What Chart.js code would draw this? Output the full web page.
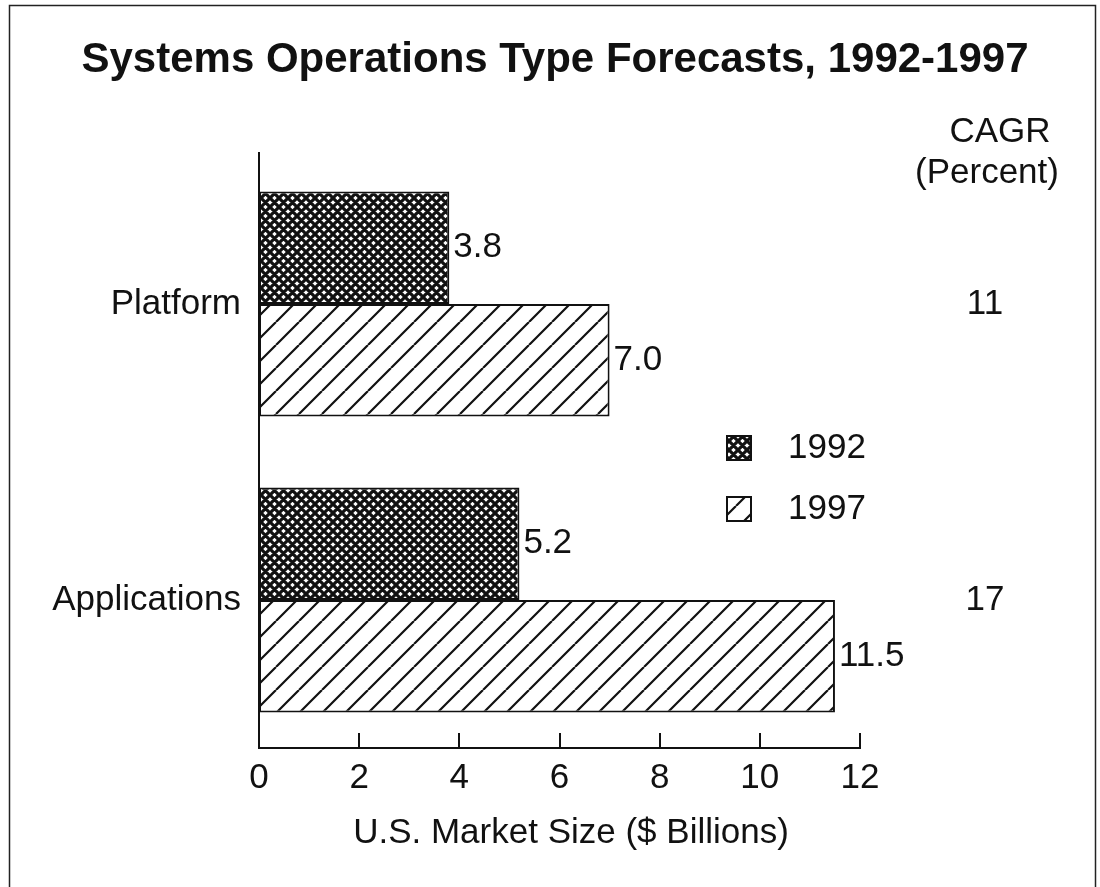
<!DOCTYPE html>
<html>
<head>
<meta charset="utf-8">
<script src="https://cdn.jsdelivr.net/npm/chart.js@4/dist/chart.umd.min.js"></script>
<style>
  html, body { margin: 0; padding: 0; background: #fff; }
  #wrap { width: 1100px; height: 887px; }
</style>
</head>
<body>
<div id="wrap"><canvas id="c" width="1100" height="887"></canvas></div>
<script>
const categories = ['Platform', 'Applications'];
const years = ['1992', '1997'];
const values1992 = [3.8, 5.2];
const values1997 = [7.0, 11.5];
const cagr = ['11', '17'];
const xTicks = [0, 2, 4, 6, 8, 10, 12];

const FONT = '"Liberation Sans", Arial, Helvetica, sans-serif';

function crossPattern() {
  const s = 9;
  const c = document.createElement('canvas');
  c.width = s; c.height = s;
  const g = c.getContext('2d');
  g.fillStyle = '#fff';
  g.fillRect(0, 0, s, s);
  g.strokeStyle = '#111';
  g.lineWidth = 3.2;
  g.beginPath();
  for (let k = -1; k <= 1; k++) {
    g.moveTo(k * s, 0); g.lineTo(k * s + s, s);
    g.moveTo(k * s, s); g.lineTo(k * s + s, 0);
  }
  g.stroke();
  return g.createPattern(c, 'repeat');
}

function hatchPattern() {
  const s = 23;
  const c = document.createElement('canvas');
  c.width = s; c.height = s;
  const g = c.getContext('2d');
  g.fillStyle = '#fff';
  g.fillRect(0, 0, s, s);
  g.strokeStyle = '#111';
  g.lineWidth = 2.2;
  g.beginPath();
  for (let k = -1; k <= 1; k++) {
    g.moveTo(k * s, s); g.lineTo(k * s + s, 0);
  }
  g.stroke();
  return g.createPattern(c, 'repeat');
}

const cross = crossPattern();
const hatch = hatchPattern();

// frame, title, value labels, CAGR column, legend and inward ticks
const extras = {
  id: 'extras',
  beforeDraw(chart) {
    const ctx = chart.ctx;
    ctx.save();
    ctx.fillStyle = '#fff';
    ctx.fillRect(0, 0, chart.width, chart.height);
    ctx.strokeStyle = '#222';
    ctx.lineWidth = 1.5;
    ctx.strokeRect(9.5, 5.5, 1086, 900);
    ctx.restore();
  },
  afterDraw(chart) {
    const ctx = chart.ctx;
    const x = chart.scales.x, y = chart.scales.y;
    const area = chart.chartArea;
    ctx.save();
    ctx.fillStyle = '#111';

    ctx.font = 'bold 42px ' + FONT;
    ctx.textAlign = 'center';
    ctx.textBaseline = 'middle';
    ctx.fillText('Systems Operations Type Forecasts, 1992-1997', 555, 60);

    // y axis runs a little above the plot
    ctx.strokeStyle = '#111';
    ctx.lineWidth = 2;
    ctx.beginPath();
    ctx.moveTo(area.left, area.top);
    ctx.lineTo(area.left, 152);
    xTicks.slice(1).forEach(v => {
      const px = Math.round(x.getPixelForValue(v));
      ctx.moveTo(px, area.bottom);
      ctx.lineTo(px, area.bottom - 15);
    });
    ctx.stroke();

    ctx.font = '35px ' + FONT;
    ctx.textAlign = 'left';
    chart.data.datasets.forEach((ds, i) => {
      chart.getDatasetMeta(i).data.forEach((bar, j) => {
        ctx.fillText(ds.data[j].toFixed(1), bar.x + 4, bar.y);
      });
    });

    ctx.textAlign = 'center';
    ctx.fillText('CAGR', 1000, 132);
    ctx.fillText('(Percent)', 987, 173);
    categories.forEach((c, i) => {
      ctx.fillText(cagr[i], 985, y.getPixelForValue(i));
    });

    const pats = [cross, hatch];
    years.forEach((yr, i) => {
      const ly = 448 + i * 61;
      ctx.fillStyle = pats[i];
      ctx.fillRect(727, ly - 12, 24, 24);
      ctx.strokeStyle = '#111';
      ctx.lineWidth = 2;
      ctx.strokeRect(727, ly - 12, 24, 24);
      ctx.fillStyle = '#111';
      ctx.textAlign = 'left';
      ctx.fillText(yr, 788, ly);
    });

    ctx.textAlign = 'center';
    ctx.fillText('U.S. Market Size ($ Billions)', 571, 833);
    ctx.restore();
  }
};

new Chart(document.getElementById('c'), {
  type: 'bar',
  data: {
    labels: categories,
    datasets: [
      { label: years[0], data: values1992, backgroundColor: cross, borderColor: '#111', borderWidth: 2, borderSkipped: false },
      { label: years[1], data: values1997, backgroundColor: hatch, borderColor: '#111', borderWidth: 2, borderSkipped: false }
    ]
  },
  options: {
    indexAxis: 'y',
    responsive: false,
    animation: false,
    layout: { padding: { left: 9, right: 240, top: 156, bottom: 79 } },
    plugins: { legend: { display: false }, tooltip: { enabled: false }, title: { display: false } },
    datasets: { bar: { barPercentage: 1, categoryPercentage: 0.76 } },
    scales: {
      x: {
        min: 0, max: 12,
        afterBuildTicks: s => { s.ticks = xTicks.map(v => ({ value: v })); },
        afterFit: s => { s.height = 60; },
        grid: { display: false, drawTicks: false },
        border: { display: true, color: '#111', width: 2 },
        ticks: { color: '#111', padding: 9, font: { family: FONT, size: 35 } }
      },
      y: {
        afterFit: s => { s.width = 250; },
        grid: { display: false, drawTicks: false },
        border: { display: true, color: '#111', width: 2 },
        ticks: { color: '#111', padding: 18, font: { family: FONT, size: 35 } }
      }
    }
  },
  plugins: [extras]
});
</script>
</body>
</html>
